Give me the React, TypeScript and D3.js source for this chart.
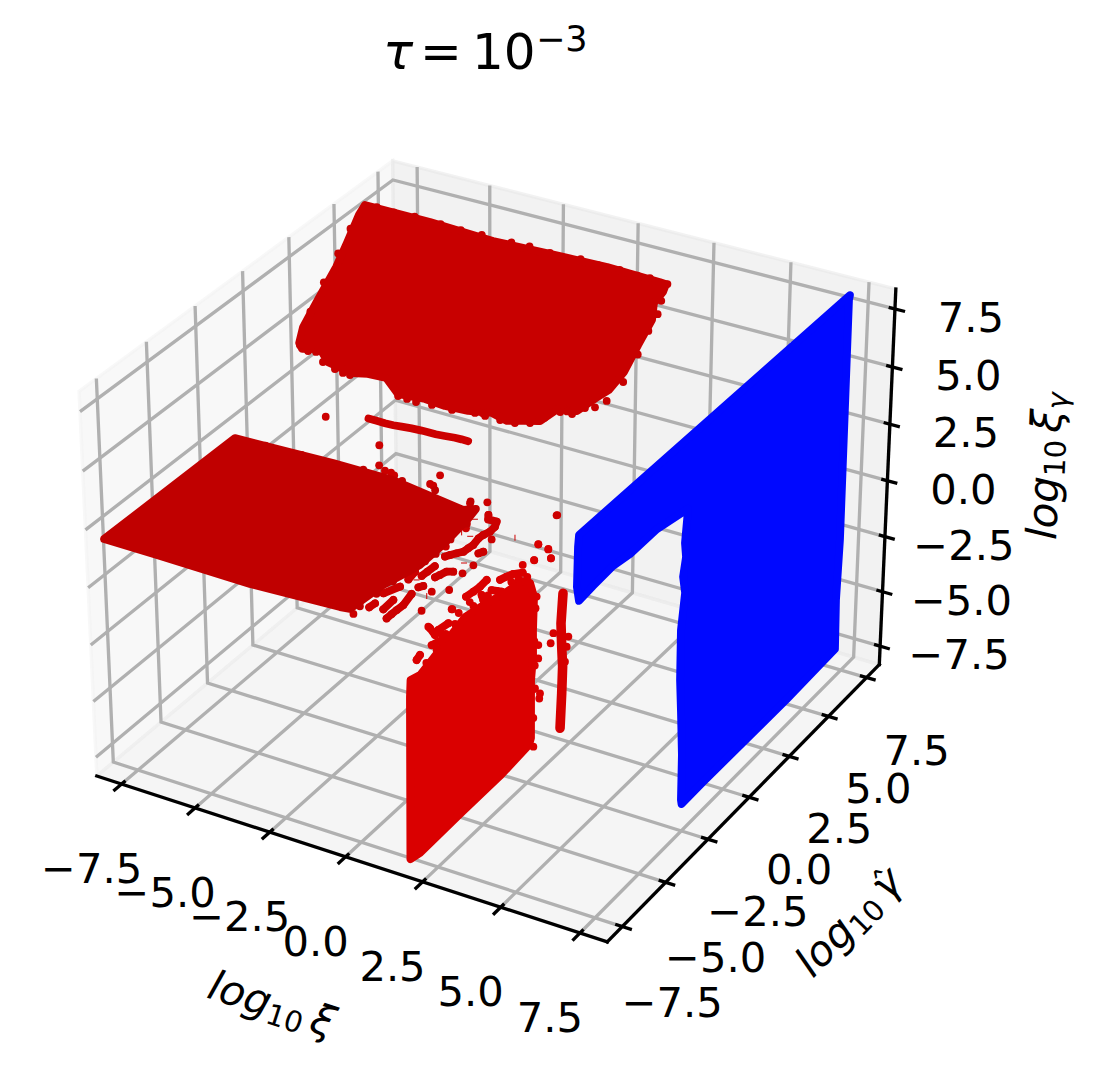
import React from "react";
import * as d3 from "d3";

type P2 = [number, number];
type P3 = [number, number, number];

// ---------- axis content ----------
const TICKS = [-7.5, -5, -2.5, 0, 2.5, 5, 7.5];
const LIMIT = 8.35;

// ---------- data (log10 ξ, log10 γ̂, log10 ξγ) ----------
const upperSheet: P3[] = [[-8.20,6.49,7.50],[-5.96,6.49,7.50],[-3.78,6.43,7.43],[-1.56,6.48,7.49],[-0.01,6.51,7.53],[1.75,6.48,7.49],[1.95,6.47,7.48],[1.95,6.29,7.25],[1.81,6.01,6.89],[1.95,5.65,6.43],[1.83,5.05,5.66],[1.73,4.41,4.85],[1.49,3.96,4.27],[1.20,3.72,3.96],[0.79,3.34,3.48],[0.20,3.28,3.40],[-0.19,2.93,2.95],[-0.70,2.83,2.83],[-1.18,2.74,2.71],[-1.73,2.82,2.81],[-2.47,2.72,2.69],[-3.23,2.69,2.65],[-3.92,2.72,2.69],[-4.48,2.69,2.64],[-4.81,2.67,2.62],[-5.37,2.94,2.96],[-5.98,2.91,2.94],[-6.48,2.84,2.84],[-7.36,2.93,2.96],[-7.77,3.16,3.25],[-8.33,3.06,3.12],[-8.50,3.17,3.26],[-8.58,3.53,3.72],[-8.48,4.11,4.47],[-8.31,5.00,5.60],[-8.28,5.57,6.33],[-8.26,6.24,7.19]];
const upperDots: P3[] = [[-7.06,2.83,2.82],[-6.76,2.79,2.78],[-6.52,2.79,2.77],[-7.52,2.91,2.92],[-4.78,2.63,2.57],[-4.47,2.62,2.56],[-4.16,2.61,2.54],[-3.64,2.64,2.58],[-2.97,2.65,2.60],[-2.24,2.72,2.69],[-1.90,2.72,2.68],[-1.40,2.72,2.68],[-0.92,2.74,2.71],[-0.47,2.83,2.82],[-0.25,2.92,2.94],[0.30,3.23,3.33],[0.68,3.25,3.37],[0.99,3.45,3.62],[-8.45,3.13,3.21],[-8.12,3.05,3.11],[-7.86,3.08,3.14],[1.99,6.48,7.49]];
const upperEdgeDots: P3[] = [[-7.8,6.51,7.53],[-7.2,6.49,7.51],[-6.5,6.52,7.54],[-5.6,6.50,7.52],[-4.9,6.48,7.50],[-4.2,6.50,7.52],[-3.2,6.50,7.52],[-2.6,6.52,7.54],[-1.9,6.49,7.51],[-0.9,6.53,7.55],[-0.3,6.50,7.52],[0.4,6.52,7.54],[1.0,6.49,7.51],[1.4,6.51,7.53],[2.0,6.1,7.0],[2.05,5.8,6.62],[1.97,5.4,6.11],[1.93,4.85,5.41],[1.82,4.2,4.58],[1.55,3.72,3.96],[1.28,3.52,3.71],[-8.42,5.3,5.98],[-8.5,4.6,5.09],[-8.55,3.9,4.19],[-8.35,5.9,6.75],[-2.9,2.73,2.70],[-2.0,2.76,2.74],[-0.8,2.86,2.86],[-0.1,3.02,3.07],[0.5,3.28,3.40],[1.05,3.6,3.81]];

const MID_XIG = 1.4;
const middleSheet: P2[] = [[-8.44,-7.34],[-8.41,-0.56],[-5.16,-0.40],[-3.15,-0.39],[-0.54,-0.88],[-0.25,-0.65],[-0.15,-1.32],[-0.03,-2.87],[-0.02,-4.15],[-0.17,-4.87],[-0.34,-5.60],[-0.42,-6.58],[-0.46,-7.16],[-0.75,-7.21],[-3.56,-7.39],[-6.66,-7.35]];
const middleDots: P2[] = [[-0.56,-0.45],[-0.16,-0.16],[1.91,0.18],[0.23,-0.77],[0.35,-0.99],[0.62,-0.98],[0.72,-1.25],[0.74,-1.57],[0.67,-1.82],[0.65,-2.05],[0.71,-2.45],[0.68,-2.68],[0.66,-2.91],[0.54,-3.08],[0.43,-3.25],[0.35,-3.40],[0.09,-2.91],[0.06,-1.74],[1.00,-1.92],[1.14,-2.63],[1.07,-2.78],[1.28,-3.42],[1.24,-3.95],[0.97,-4.00],[0.81,-4.09],[0.74,-4.34],[0.69,-4.52],[0.37,-3.99],[0.35,-4.36],[0.33,-4.64],[0.05,-4.53],[0.11,-4.99],[0.11,-5.44],[-0.10,-5.98],[-0.02,-6.56],[-0.05,-6.82],[0.32,-6.15],[0.34,-6.72],[0.67,-7.09],[0.67,-6.82],[0.68,-6.57],[0.70,-6.25],[0.59,-5.62],[0.57,-5.22],[0.65,-5.09],[1.01,-5.24],[1.38,-4.92],[1.29,-6.26],[-0.24,-7.34],[1.98,-5.77],[2.27,-1.50],[2.65,-1.61],[2.96,-2.00],[2.61,-2.33],[-6.80,1.86],[-4.55,1.17],[-3.94,0.15],[-3.63,-0.04],[-3.42,-0.05],[-3.26,-0.14],[-2.12,0.52],[-2.11,-0.06],[-1.98,-0.10],[1.92,0.20]];
const middleEdgeDots: P2[] = [[-0.05,-1.5],[0.0,-2.5],[0.05,-3.4],[0.0,-3.9],[-0.1,-4.6],[-0.2,-5.3],[-0.25,-6.1],[-0.3,-6.9],[-0.6,-0.35],[-1.8,-0.3],[-2.9,-0.3],[-4.2,-0.3],[-6.2,-0.45],[-7.4,-0.5]];
const middleChains: number[][] = [[3,4,5,6,7,8,9,10,11,12,13,14,15],[19,20],[23,24,25,26],[27,28,29],[31,30],[34,35],[38,39,40,41,42],[43,44],[37,36],[32,33]];

const THREAD_GAMMA = 6;
const upperThread: P2[] = [[-7.88,-1.69],[-7.59,-1.69],[-7.30,-1.70],[-7.00,-1.68],[-6.71,-1.64],[-6.36,-1.59],[-6.01,-1.56],[-5.78,-1.55],[-5.52,-1.55],[-5.20,-1.51],[-4.85,-1.46],[-4.62,-1.45],[-4.39,-1.45]];

const LOWER_XI = 2.2;
const lowerSheet: P2[] = [[-8.49,-7.37],[-8.43,-0.38],[-8.39,0.32],[-7.89,0.17],[-7.25,0.36],[-5.46,0.94],[-4.53,0.77],[-3.25,0.46],[-2.30,0.32],[-1.84,-0.07],[-1.61,-0.84],[-1.66,-2.26],[-1.65,-3.45],[-1.76,-4.40],[-1.75,-7.01],[-1.86,-7.24],[-3.53,-7.41],[-5.77,-7.43],[-7.97,-7.50]];
const lowerDots: P2[] = [[-2.26,0.99],[-2.26,0.66],[-2.79,0.96],[-3.16,1.10],[-3.53,1.21],[-4.27,1.71],[-4.64,1.67],[-5.00,1.71],[-5.40,1.77],[-4.55,1.26],[-4.46,0.98],[-4.00,1.09],[-3.44,0.64],[-4.64,0.75],[-6.18,1.77],[-7.34,1.77],[-6.36,1.30],[-6.90,1.39],[-6.72,0.84],[-7.26,1.00],[-7.88,1.02],[-8.06,0.93],[-7.43,1.90],[-7.08,1.30],[-1.24,-5.37],[-1.28,-5.57],[-1.53,-4.94],[-1.35,-3.14],[-1.35,-3.73],[-1.46,-0.93],[-1.61,-7.50],[-1.38,1.29],[-0.80,0.70],[-1.62,0.77],[-0.65,0.19]];
const lowerEdgeDots: P2[] = [[-7.55,0.45],[-7.0,0.62],[-6.5,0.95],[-6.0,1.02],[-5.0,1.1],[-4.2,1.0],[-3.7,0.85],[-2.9,0.7],[-2.5,0.55],[-2.0,0.3],[-1.52,-1.4],[-1.58,-2.8],[-1.55,-3.9],[-1.65,-4.9],[-1.62,-6.2],[-6.7,1.05],[-5.8,1.35],[-5.2,1.4]];
const lowerChains: number[][] = [[1,2,3,4],[5,6,7,8],[9,10],[11,12],[16,17],[23,15],[20,21],[18,19]];

const COLUMN_XI = 5;
const column: P2[] = [[-4.96,2.72],[-5.06,1.52],[-5.01,0.49],[-4.95,-0.41],[-4.99,-1.52],[-5.07,-2.98]];
const columnDots: P2[] = [[-4.64,0.66],[-4.73,0.29],[-4.82,-0.29],[-5.48,1.39],[-5.63,1.07]];

const BLUE_XI = 7;
const blueSheet: P2[] = [[8.17,7.73],[-7.71,7.77],[-7.76,7.31],[-7.80,5.71],[-7.68,5.06],[-6.92,5.15],[-5.82,5.23],[-4.87,5.08],[-3.35,5.10],[-1.55,4.76],[-1.69,3.41],[-1.61,2.76],[-1.76,2.02],[-1.62,1.24],[-1.82,-0.22],[-1.81,-2.39],[-1.71,-3.91],[-1.60,-5.85],[-1.60,-7.86],[-1.56,-8.07],[-0.26,-8.05],[4.91,-8.09],[8.09,-8.00],[8.03,-5.69],[8.14,-3.04],[8.13,2.90],[8.12,7.55]];

const tinyMarks: P2[] = [[0.02,-1.17],[0.07,-2.00],[0.39,-2.07],[1.52,-1.51],[0.99,-3.44],[0.32,-4.90],[1.01,-5.51]];
const tinyMarkVertical = [false, true, false, true, false, false, true];

// ---------- mplot3d camera (elev 30, azim -60, box 4:4:3, dist 10) ----------
const BOX = 1.8294640721620434 / Math.sqrt(41);
const el = Math.PI / 6, az = -Math.PI / 3;
const W = [Math.cos(el) * Math.cos(az), Math.cos(el) * Math.sin(az), Math.sin(el)];
const U = [-Math.sin(az), Math.cos(az), 0];
const V = [-Math.sin(el) * Math.cos(az), -Math.sin(el) * Math.sin(az), Math.cos(el)];
const sx = d3.scaleLinear([-LIMIT, LIMIT], [-2 * BOX, 2 * BOX]);
const sz = d3.scaleLinear([-LIMIT, LIMIT], [-1.5 * BOX, 1.5 * BOX]);
const SCALE = 5118, OX = 495, OY = 533.3;
const dot = (a: number[], b: number[]) => a[0] * b[0] + a[1] * b[1] + a[2] * b[2];
function project([x, y, z]: P3): P2 {
  const c = [sx(x), sx(y), sz(z)];
  const d = 10 - dot(c, W);
  return [OX + (SCALE * dot(c, U)) / d, OY - (SCALE * dot(c, V)) / d];
}
const line = d3.line<P3>((p) => project(p)[0], (p) => project(p)[1]);
const closed = (a: P3[]) => line(a)! + "Z";

const lo = -LIMIT, hi = LIMIT;
const FONT = "'DejaVu Sans', sans-serif";
const LABEL = 41.67;
const GRID = "#b0b0b0";
const fmt = (t: number) => (t < 0 ? "\u2212" : "") + Math.abs(t).toFixed(1);

const UP = "#c80000", MID = "#c00000", LOW = "#da0000", COL = "#d60000", NEAR = "#cc0000", BLUE = "#0008ff";
const DOT_R = 3.9;

function Sheet({ pts, color }: { pts: P3[]; color: string }) {
  return <path d={closed(pts)} fill={color} stroke={color} strokeWidth={2 * DOT_R} strokeLinejoin="round" />;
}
function Dots({ pts, color }: { pts: P3[]; color: string }) {
  return (
    <g fill={color}>
      {pts.map((p, i) => {
        const [cx, cy] = project(p);
        return <circle key={i} cx={cx} cy={cy} r={DOT_R} />;
      })}
    </g>
  );
}
function Chains({ chains, pts, color }: { chains: number[][]; pts: P3[]; color: string }) {
  return (
    <g fill="none" stroke={color} strokeWidth={2 * DOT_R} strokeLinecap="round" strokeLinejoin="round">
      {chains.map((c, i) => <path key={i} d={line(c.map((k) => pts[k]))!} />)}
    </g>
  );
}

export default function App() {
  const panes: [P3[], string][] = [
    [[[lo, lo, lo], [lo, hi, lo], [lo, hi, hi], [lo, lo, hi]], "rgba(242,242,242,0.5)"],
    [[[lo, hi, lo], [hi, hi, lo], [hi, hi, hi], [lo, hi, hi]], "rgba(230,230,230,0.5)"],
    [[[lo, lo, lo], [hi, lo, lo], [hi, hi, lo], [lo, hi, lo]], "rgba(236,236,236,0.5)"],
  ];
  const gridLines: P3[][] = TICKS.flatMap((t) => [
    [[t, lo, lo], [t, hi, lo], [t, hi, hi]] as P3[],
    [[hi, t, lo], [lo, t, lo], [lo, t, hi]] as P3[],
    [[lo, lo, t], [lo, hi, t], [hi, hi, t]] as P3[],
  ]);
  const axisLines: P3[][] = [
    [[lo, lo, lo], [hi, lo, lo]],
    [[hi, lo, lo], [hi, hi, lo]],
    [[hi, hi, lo], [hi, hi, hi]],
  ];
  const tickLines: P3[][] = TICKS.flatMap((t) => [
    [[t, lo - 0.42, lo], [t, lo + 0.2, lo]] as P3[],
    [[hi + 0.3, t, lo], [hi - 0.22, t, lo]] as P3[],
    [[hi + 0.32, hi, t], [hi - 0.2, hi, t]] as P3[],
  ]);

  const mid3 = (a: P2[]): P3[] => a.map(([x, y]) => [x, y, MID_XIG]);
  const low3 = (a: P2[]): P3[] => a.map(([y, z]) => [LOWER_XI, y, z]);
  const col3 = (a: P2[]): P3[] => a.map(([y, z]) => [COLUMN_XI, y, z]);
  const blue3 = (a: P2[]): P3[] => a.map(([y, z]) => [BLUE_XI, y, z]);
  const thr3 = (a: P2[]): P3[] => a.map(([x, z]) => [x, THREAD_GAMMA, z]);

  return (
    <svg width={1112} height={1077} viewBox="0 0 1112 1077" style={{ position: "absolute", left: 0, top: 0, background: "#fff" }} fontFamily={FONT}>
      {/* panes */}
      {panes.map(([p, c], i) => (
        <path key={i} d={closed(p)} fill={c} stroke={c} strokeWidth={3.33} />
      ))}
      {/* grid */}
      <g fill="none" stroke={GRID} strokeWidth={3.33}>
        {gridLines.map((g, i) => <path key={i} d={line(g)!} />)}
      </g>
      {/* axes */}
      <g fill="none" stroke="#000" strokeWidth={3.33} strokeLinecap="square">
        {axisLines.map((g, i) => <path key={i} d={line(g)!} />)}
      </g>
      <g fill="none" stroke="#000" strokeWidth={3.33}>
        {tickLines.map((g, i) => <path key={i} d={line(g)!} />)}
      </g>

      {/* tick labels */}
      <g fontSize={LABEL} textAnchor="middle" fill="#000">
        {TICKS.map((t) => {
          const [a, b] = project([t, lo, lo]);
          return <text key={"x" + t} x={a - 30} y={b + 99}>{fmt(t)}</text>;
        })}
        {TICKS.map((t) => {
          const [a, b] = project([hi, t, lo]);
          return <text key={"y" + t} x={a + 50} y={b + 87 + (t <= -5 ? 3 : 0)}>{fmt(t)}</text>;
        })}
        {TICKS.map((t) => {
          const [a, b] = project([hi, hi, t]);
          return <text key={"z" + t} x={a + (t < 0 ? 79 : 76)} y={b + 23}>{fmt(t)}</text>;
        })}
      </g>

      {/* scatter */}
      <Sheet pts={upperSheet} color={UP} />
      <Dots pts={upperDots} color={UP} />
      <Dots pts={upperEdgeDots} color={UP} />
      <path d={line(thr3(upperThread))!} fill="none" stroke={NEAR} strokeWidth={2 * DOT_R} strokeLinecap="round" />
      <Dots pts={mid3(middleDots)} color={NEAR} />
      <Chains chains={middleChains} pts={mid3(middleDots)} color={NEAR} />
      <Sheet pts={mid3(middleSheet)} color={MID} />
      <Dots pts={mid3(middleEdgeDots)} color={MID} />
      <Sheet pts={low3(lowerSheet)} color={LOW} />
      <Dots pts={low3(lowerDots)} color={LOW} />
      <Dots pts={low3(lowerEdgeDots)} color={LOW} />
      <Chains chains={lowerChains} pts={low3(lowerDots)} color={LOW} />
      <path d={line(col3(column))!} fill="none" stroke={COL} strokeWidth={9.6} strokeLinecap="round" strokeLinejoin="round" />
      <Dots pts={col3(columnDots)} color={COL} />
      <Sheet pts={blue3(blueSheet)} color={BLUE} />
      <g stroke={NEAR} strokeWidth={1}>
        {mid3(tinyMarks).map((p, i) => {
          const [a, b] = project(p);
          return tinyMarkVertical[i]
            ? <line key={i} x1={a} x2={a} y1={b - 3} y2={b + 3} />
            : <line key={i} x1={a - 3} x2={a + 3} y1={b} y2={b} />;
        })}
      </g>

      {/* title */}
      <text y={69} fontSize={50} fill="#000">
        <tspan x={383} fontStyle="italic">τ</tspan>
        <tspan x={420}>=</tspan>
        <tspan x={472}>10</tspan>
        <tspan x={536} y={50.7} fontSize={35}>−3</tspan>
      </text>

      {/* axis labels */}
      <text transform="translate(271,1007) rotate(18)" textAnchor="middle" dominantBaseline="middle" fontSize={LABEL} fill="#000">
        <tspan fontStyle="italic">log</tspan>
        <tspan fontSize={29} dy={9}>10</tspan>
        <tspan dy={-9} dx={7} fontStyle="italic">ξ</tspan>
      </text>
      <text transform="translate(851,924) rotate(-45.7)" textAnchor="middle" dominantBaseline="middle" fontSize={LABEL} fill="#000">
        <tspan fontStyle="italic">log</tspan>
        <tspan fontSize={29} dy={9}>10</tspan>
        <tspan dy={-9} dx={7} fontStyle="italic">γ</tspan>
        <tspan dx={-20} dy={-3} fontSize={34}>ˆ</tspan>
      </text>
      <text transform="translate(1048,466) rotate(-87.6)" textAnchor="middle" dominantBaseline="middle" fontSize={LABEL} fill="#000">
        <tspan fontStyle="italic">log</tspan>
        <tspan fontSize={29} dy={9}>10</tspan>
        <tspan dy={-9} dx={7} fontStyle="italic">ξ</tspan>
        <tspan fontSize={29} dy={9} fontStyle="italic">γ</tspan>
      </text>
    </svg>
  );
}
